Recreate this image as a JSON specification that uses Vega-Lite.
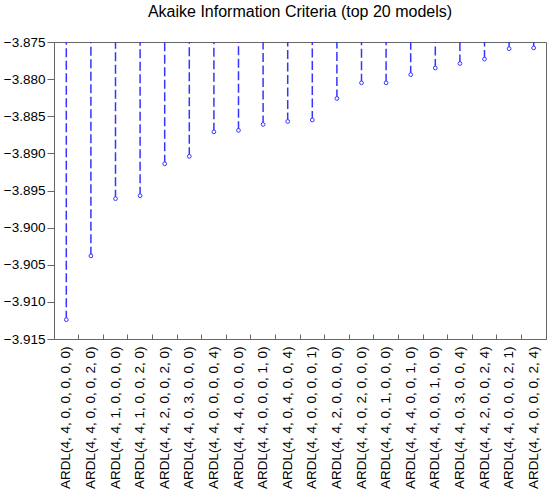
{
  "$schema": "https://vega.github.io/schema/vega-lite/v6.json",
  "description": "Akaike Information Criteria for the top 20 ARDL models.",
  "width": 492,
  "height": 297,
  "padding": {"left": 3, "top": 4, "right": 5, "bottom": 5},
  "title": {
    "text": "Akaike Information Criteria (top 20 models)",
    "font": "Liberation Sans",
    "fontSize": 16,
    "fontWeight": "normal",
    "color": "#000000",
    "anchor": "middle",
    "offset": 15
  },
  "data": {
    "values": [
      {"model": "ARDL(4, 4, 0, 0, 0, 0, 0)", "aic": -3.9124},
      {"model": "ARDL(4, 4, 0, 0, 0, 2, 0)", "aic": -3.9038},
      {"model": "ARDL(4, 4, 1, 0, 0, 0, 0)", "aic": -3.8961},
      {"model": "ARDL(4, 4, 1, 0, 0, 2, 0)", "aic": -3.8957},
      {"model": "ARDL(4, 4, 2, 0, 0, 2, 0)", "aic": -3.8914},
      {"model": "ARDL(4, 4, 0, 3, 0, 0, 0)", "aic": -3.8904},
      {"model": "ARDL(4, 4, 0, 0, 0, 0, 4)", "aic": -3.8871},
      {"model": "ARDL(4, 4, 4, 0, 0, 0, 0)", "aic": -3.8869},
      {"model": "ARDL(4, 4, 0, 0, 0, 1, 0)", "aic": -3.8861},
      {"model": "ARDL(4, 4, 0, 4, 0, 0, 4)", "aic": -3.8857},
      {"model": "ARDL(4, 4, 0, 0, 0, 0, 1)", "aic": -3.8855},
      {"model": "ARDL(4, 4, 2, 0, 0, 0, 0)", "aic": -3.8826},
      {"model": "ARDL(4, 4, 0, 2, 0, 0, 0)", "aic": -3.8805},
      {"model": "ARDL(4, 4, 0, 1, 0, 0, 0)", "aic": -3.8805},
      {"model": "ARDL(4, 4, 4, 0, 0, 1, 0)", "aic": -3.8794},
      {"model": "ARDL(4, 4, 0, 0, 1, 0, 0)", "aic": -3.8785},
      {"model": "ARDL(4, 4, 0, 3, 0, 0, 4)", "aic": -3.8779},
      {"model": "ARDL(4, 4, 2, 0, 0, 2, 4)", "aic": -3.8773},
      {"model": "ARDL(4, 4, 0, 0, 0, 2, 1)", "aic": -3.8759},
      {"model": "ARDL(4, 4, 0, 0, 0, 2, 4)", "aic": -3.8758}
    ]
  },
  "encoding": {
    "x": {
      "field": "model",
      "type": "nominal",
      "sort": null,
      "title": null,
      "scale": {"paddingInner": 0, "paddingOuter": 0},
      "axis": {
        "labelAngle": -90,
        "bandPosition": 0,
        "tickSize": -5,
        "labelPadding": 12,
        "labelFont": "Liberation Sans",
        "labelFontSize": 13.5,
        "labelColor": "#000000",
        "domainColor": "#666666",
        "tickColor": "#666666"
      }
    },
    "y": {
      "field": "aic",
      "type": "quantitative",
      "title": null,
      "scale": {"domain": [-3.915, -3.875], "nice": false, "zero": false},
      "axis": {
        "values": [-3.915, -3.91, -3.905, -3.9, -3.895, -3.89, -3.885, -3.88, -3.875],
        "format": ".3f",
        "grid": false,
        "tickSize": 7,
        "labelPadding": 2,
        "labelFont": "Liberation Sans",
        "labelFontSize": 13.5,
        "labelColor": "#000000",
        "domainColor": "#666666",
        "tickColor": "#666666"
      }
    }
  },
  "layer": [
    {
      "mark": {"type": "rule", "color": "#3535ff", "strokeWidth": 1.5, "strokeDash": [9, 3.5]},
      "encoding": {"y2": {"datum": -3.875}}
    },
    {
      "mark": {"type": "point", "shape": "circle", "size": 14, "filled": false, "fill": "#ffffff", "fillOpacity": 1, "stroke": "#3535ff", "strokeWidth": 1, "opacity": 1}
    }
  ],
  "config": {
    "view": {"stroke": "#666666", "strokeWidth": 1}
  }
}
